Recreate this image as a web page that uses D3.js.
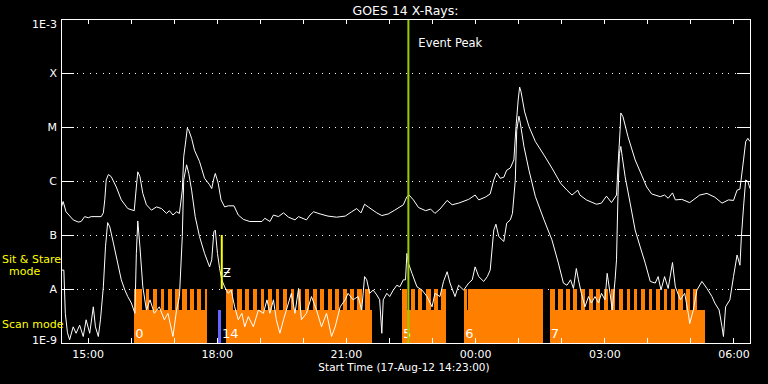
<!DOCTYPE html>
<html><head><meta charset="utf-8">
<script src="https://cdn.jsdelivr.net/npm/d3@7/dist/d3.min.js"></script>
<style>html,body{margin:0;padding:0;background:#000;}svg{display:block;}</style>
</head><body><svg id="chart" width="768" height="384"></svg>
<script>
// ---------------- DATA ----------------
const startTime = "2012-08-17T14:23:00Z";
const endTime   = "2012-08-18T06:23:00Z";
const titleText = "GOES 14 X-Rays:";
const xAxisTitle = "Start Time (17-Aug-12 14:23:00)";

// GOES long channel (1-8 A), log10 flux W/m^2
const longChannel = [
["14:23",-6.51],["14:26",-6.38],["14:30",-6.57],["14:40",-6.72],["14:47",-6.76],["14:51",-6.75],["14:56",-6.66],
["15:01",-6.68],["15:05",-6.66],["15:19",-6.66],["15:22",-6.59],["15:24",-6.35],["15:26",-5.98],["15:29",-5.88],
["15:33",-5.92],["15:40",-6.11],["15:47",-6.35],["15:56",-6.51],["16:05",-6.55],["16:08",-6.11],["16:10",-5.83],
["16:13",-5.92],["16:17",-6.23],["16:22",-6.44],["16:29",-6.54],["16:36",-6.48],["16:43",-6.51],["16:50",-6.60],
["16:54",-6.55],["16:59",-6.63],["17:04",-6.57],["17:08",-6.60],["17:12",-6.17],["17:14",-5.55],["17:17",-5.24],
["17:19",-5.02],["17:21",-5.06],["17:25",-5.21],["17:29",-5.43],["17:36",-5.64],["17:43",-5.95],["17:50",-6.07],
["17:53",-6.14],["17:56",-5.95],["17:58",-5.86],["18:02",-6.04],["18:06",-6.35],["18:11",-6.48],["18:16",-6.46],
["18:24",-6.46],["18:30",-6.63],["18:37",-6.71],["18:46",-6.75],["19:03",-6.75],["19:07",-6.69],["19:14",-6.75],
["19:19",-6.63],["19:26",-6.66],["19:33",-6.59],["19:40",-6.67],["19:49",-6.72],["19:54",-6.66],["20:05",-6.72],
["20:10",-6.63],["20:15",-6.57],["20:24",-6.61],["20:35",-6.65],["20:47",-6.67],["20:59",-6.65],["21:08",-6.57],
["21:15",-6.51],["21:21",-6.59],["21:26",-6.43],["21:31",-6.48],["21:43",-6.59],["21:50",-6.64],["21:59",-6.61],
["22:08",-6.54],["22:20",-6.44],["22:25",-6.29],["22:28",-6.26],["22:34",-6.35],["22:41",-6.49],["22:51",-6.55],
["22:58",-6.52],["23:04",-6.60],["23:11",-6.52],["23:21",-6.36],["23:28",-6.44],["23:37",-6.41],["23:51",-6.34],
["00:00",-6.26],["00:05",-6.35],["00:14",-6.30],["00:21",-6.24],["00:26",-5.98],["00:30",-5.85],["00:35",-5.95],
["00:40",-5.93],["00:44",-5.80],["00:49",-5.76],["00:54",-5.61],["00:57",-4.99],["01:00",-4.50],["01:02",-4.26],
["01:04",-4.35],["01:09",-4.72],["01:15",-4.99],["01:24",-5.27],["01:36",-5.52],["01:47",-5.76],["01:59",-6.04],
["02:08",-6.17],["02:15",-6.26],["02:23",-6.17],["02:26",-6.26],["02:35",-6.35],["02:49",-6.43],["02:56",-6.41],
["03:03",-6.28],["03:10",-6.40],["03:17",-6.26],["03:19",-5.74],["03:22",-5.06],["03:23",-4.74],["03:26",-4.81],
["03:33",-5.18],["03:43",-5.61],["03:52",-5.89],["03:59",-6.11],["04:06",-6.24],["04:18",-6.29],["04:24",-6.26],
["04:29",-6.32],["04:35",-6.22],["04:39",-6.35],["04:48",-6.34],["04:59",-6.40],["05:13",-6.26],["05:23",-6.23],
["05:34",-6.30],["05:44",-6.41],["05:53",-6.35],["06:00",-6.36],["06:05",-6.17],["06:09",-6.15],["06:14",-5.61],
["06:17",-5.27],["06:20",-5.21],["06:23",-5.27]
];

// GOES short channel (0.5-4 A), log10 flux W/m^2
const shortChannel = [
["14:23",-7.65],["14:24",-7.65],["14:27",-7.65],["14:29",-8.45],["14:32",-8.81],["14:35",-8.94],["14:40",-8.70],
["14:44",-8.82],["14:49",-8.67],["14:54",-8.88],["14:58",-8.57],["15:03",-8.82],["15:08",-8.33],["15:11",-8.70],
["15:15",-8.88],["15:18",-8.57],["15:22",-7.96],["15:25",-7.22],["15:28",-6.77],["15:31",-6.85],["15:36",-7.15],
["15:42",-7.52],["15:47",-7.83],["15:52",-8.02],["15:56",-8.14],["16:01",-8.26],["16:06",-8.45],["16:08",-7.34],
["16:10",-6.74],["16:13",-7.22],["16:17",-7.96],["16:22",-8.39],["16:27",-8.20],["16:33",-8.45],["16:40",-8.33],
["16:47",-8.57],["16:52",-8.45],["16:59",-8.88],["17:04",-8.39],["17:08",-8.14],["17:12",-7.03],["17:14",-5.98],
["17:18",-5.70],["17:21",-5.86],["17:25",-6.17],["17:30",-6.66],["17:36",-7.03],["17:43",-7.34],["17:50",-7.59],
["17:53",-7.46],["17:56",-6.94],["17:58",-6.91],["18:01",-7.34],["18:04",-7.62],["18:07",-7.83],["18:11",-7.96],
["18:16",-8.08],["18:20",-8.02],["18:25",-8.33],["18:30",-8.57],["18:35",-8.45],["18:39",-8.70],["18:44",-8.51],
["18:51",-8.70],["18:58",-8.39],["19:05",-8.45],["19:10",-8.20],["19:14",-8.45],["19:19",-8.20],["19:23",-8.57],
["19:28",-8.82],["19:33",-8.57],["19:37",-8.39],["19:44",-8.08],["19:49",-8.45],["19:54",-7.99],["19:58",-8.57],
["20:05",-8.45],["20:12",-8.14],["20:19",-8.39],["20:26",-8.70],["20:33",-8.45],["20:40",-8.88],["20:45",-8.70],
["20:52",-8.33],["20:59",-8.20],["21:03",-8.08],["21:10",-8.20],["21:17",-8.14],["21:22",-8.39],["21:26",-7.77],
["21:29",-7.83],["21:33",-8.08],["21:38",-8.02],["21:43",-8.11],["21:47",-8.20],["21:50",-8.82],["21:52",-8.20],
["21:57",-8.08],["22:01",-8.14],["22:06",-8.02],["22:11",-7.93],["22:15",-7.96],["22:20",-7.83],["22:23",-7.83],
["22:25",-7.34],["22:27",-7.52],["22:32",-7.71],["22:39",-7.96],["22:46",-8.02],["22:53",-8.14],["23:00",-8.33],
["23:04",-8.08],["23:11",-8.14],["23:16",-7.86],["23:21",-7.68],["23:25",-7.89],["23:32",-8.14],["23:37",-7.93],
["23:44",-8.02],["23:51",-7.89],["23:56",-7.83],["00:00",-7.59],["00:05",-7.77],["00:12",-7.86],["00:17",-7.77],
["00:21",-7.65],["00:26",-6.91],["00:29",-6.80],["00:33",-7.03],["00:40",-7.12],["00:44",-6.78],["00:49",-6.72],
["00:52",-6.60],["00:56",-5.98],["00:58",-5.06],["01:01",-4.80],["01:03",-4.93],["01:08",-5.36],["01:15",-5.80],
["01:24",-6.29],["01:36",-6.72],["01:47",-7.09],["01:56",-7.52],["02:03",-7.89],["02:08",-7.93],["02:13",-7.83],
["02:17",-7.99],["02:21",-7.62],["02:24",-7.83],["02:28",-8.08],["02:33",-8.33],["02:38",-8.14],["02:42",-8.26],
["02:47",-8.14],["02:52",-8.26],["02:56",-8.08],["03:01",-8.20],["03:04",-7.71],["03:08",-8.08],["03:11",-8.39],
["03:15",-7.83],["03:17",-7.46],["03:19",-6.29],["03:21",-5.49],["03:23",-5.36],["03:25",-5.55],["03:29",-5.92],
["03:36",-6.41],["03:43",-6.91],["03:50",-7.22],["03:57",-7.52],["04:04",-7.86],["04:11",-7.89],["04:15",-7.77],
["04:19",-8.02],["04:24",-7.77],["04:29",-7.99],["04:35",-7.51],["04:39",-7.96],["04:46",-8.20],["04:52",-8.08],
["04:57",-8.45],["04:59",-8.64],["05:04",-8.39],["05:09",-8.02],["05:16",-7.86],["05:23",-7.99],["05:30",-8.14],
["05:34",-8.26],["05:40",-8.39],["05:44",-8.70],["05:46",-8.88],["05:49",-8.33],["05:55",-8.20],["06:00",-7.77],
["06:05",-7.37],["06:09",-7.56],["06:11",-7.03],["06:14",-6.48],["06:17",-5.98],["06:20",-6.01],["06:23",-6.14]
];

// Observation blocks (scan mode) [start, end]
const scanBlocks = [["16:05","17:47"],["18:13","21:36"],["22:18","23:19"],["23:45","01:35"],["01:44","05:20"]];
// Gaps between sit & stare segments [start, end]
const stareGaps = [
["16:16","16:21"],["16:26","16:31"],["16:37","16:42"],["16:47","16:52"],["16:57","17:02"],["17:07","17:12"],
["17:18","17:23"],["17:28","17:33"],["17:38","17:43"],
["18:23","18:28"],["18:35","18:40"],["18:45","18:50"],["18:56","19:01"],["19:06","19:11"],["19:17","19:22"],
["19:27","19:32"],["19:38","19:43"],["19:48","19:53"],["19:58","20:03"],["20:09","20:14"],["20:19","20:24"],
["20:30","20:35"],["20:40","20:45"],["20:51","20:56"],["21:01","21:06"],["21:11","21:16"],["21:22","21:27"],
["21:33","21:36"],
["22:25","22:30"],["22:36","22:41"],["22:46","22:51"],["22:58","23:03"],["23:08","23:13"],
["23:48","23:49"],
["01:51","01:56"],["02:02","02:07"],["02:12","02:17"],["02:22","02:27"],["02:33","02:38"],["02:44","02:49"],
["02:54","02:59"],["03:05","03:10"],["03:15","03:20"],["03:26","03:31"],["03:36","03:41"],["03:46","03:51"],
["03:57","04:02"],["04:07","04:12"],["04:18","04:23"],["04:28","04:33"],["04:38","04:43"],["04:49","04:54"],
["04:59","05:04"],["05:09","05:13"],["05:14","05:20"]
];
const calibrationBars = [["18:02","18:06"]];
const blockLabels = [["0","16:05"],["14","18:06"],["5","22:18"],["6","23:45"],["7","01:44"]];
const eventPeakTime = "22:27";
const eventPeakLabel = "Event Peak";
const flareMarker = [["18:07", 1e-7, 1e-8, "Ƶ"]];
const yTickValues = [1e-9,1e-8,1e-7,1e-6,1e-5,1e-4,1e-3];
const yTickLabels = ["1E-9","A","B","C","M","X","1E-3"];
const modeLabels = [["Sit & Stare", "  mode"], ["Scan mode"]];

// ---------------- DRAWING ----------------
const W = 768, H = 384;
const m = {left:61, right:18, top:19, bottom:41};
const svg = d3.select("#chart");
svg.append("rect").attr("width",W).attr("height",H).attr("fill","#000");

const t0 = new Date(startTime), t1 = new Date(endTime);
function tp(s){const [h,mi]=s.split(":").map(Number);const day=h<14?18:17;return new Date(Date.UTC(2012,7,day,h,mi));}
const x = d3.scaleUtc().domain([t0,t1]).range([m.left, W-m.right]);
const y = d3.scaleLog().domain([1e-9,1e-3]).range([H-m.bottom, m.top]);
const FONT = "DejaVu Sans, sans-serif";

const defs = svg.append("defs");
defs.append("clipPath").attr("id","plot").append("rect")
  .attr("x",m.left).attr("y",m.top).attr("width",W-m.left-m.right).attr("height",H-m.top-m.bottom);

// grid dotted lines
const grid = svg.append("g").attr("shape-rendering","crispEdges");
grid.selectAll("line").data(yTickValues.slice(1,-1)).join("line")
  .attr("x1",m.left+16).attr("x2",W-m.right-14)
  .attr("y1",d=>Math.round(y(d))+0.5).attr("y2",d=>Math.round(y(d))+0.5)
  .attr("stroke","#fff").attr("stroke-dasharray","1,5.45");

// bars
const bandTop = y(1e-8), bandBot = y(1e-9);
const notchBot = bandTop + 0.39*(bandBot-bandTop);
const bars = svg.append("g").attr("shape-rendering","crispEdges").attr("clip-path","url(#plot)");
bars.selectAll("rect.blk").data(scanBlocks).join("rect").attr("class","blk")
  .attr("x",d=>x(tp(d[0]))).attr("width",d=>x(tp(d[1]))-x(tp(d[0])))
  .attr("y",bandTop).attr("height",bandBot-bandTop).attr("fill","#ff8000");
bars.selectAll("rect.gap").data(stareGaps).join("rect").attr("class","gap")
  .attr("x",d=>x(tp(d[0]))).attr("width",d=>Math.max(1,x(tp(d[1]))-x(tp(d[0]))))
  .attr("y",bandTop).attr("height",notchBot-bandTop).attr("fill","#000");
bars.selectAll("rect.cal").data(calibrationBars).join("rect").attr("class","cal")
  .attr("x",d=>x(tp(d[0]))).attr("width",d=>x(tp(d[1]))-x(tp(d[0])))
  .attr("y",notchBot).attr("height",bandBot-notchBot).attr("fill","#6464ff");

// curves
const line = d3.line().x(d=>x(tp(d[0]))).y(d=>y(Math.max(Math.pow(10,d[1]),1e-9)));
const curves = svg.append("g").attr("clip-path","url(#plot)");
[longChannel, shortChannel].forEach(s=>{
  curves.append("path").datum(s).attr("d",line).attr("fill","none").attr("stroke","#fff").attr("stroke-width",1);
});

// block labels
svg.append("g").selectAll("text").data(blockLabels).join("text")
  .attr("x",d=>x(tp(d[1]))+1).attr("y",bandBot-5)
  .attr("fill","#fff").attr("font-family",FONT).attr("font-size",13).text(d=>d[0]);

// flare marker
const fm = svg.append("g");
fm.selectAll("rect").data(flareMarker).join("rect")
  .attr("x",d=>x(tp(d[0]))-1).attr("width",2).attr("y",d=>y(d[1])).attr("height",d=>y(d[2])-y(d[1]))
  .attr("fill","#ffff00");
fm.selectAll("text").data(flareMarker).join("text")
  .attr("x",d=>x(tp(d[0]))+1).attr("y",d=>y(d[2])-12)
  .attr("fill","#fff").attr("font-family",FONT).attr("font-size",12).text(d=>d[3]);

// event peak
const ex = x(tp(eventPeakTime));
svg.append("rect").attr("x",ex-1).attr("y",m.top).attr("width",2).attr("height",H-m.top-m.bottom).attr("fill","#99cc00");
svg.append("text").attr("x",ex+10).attr("y",47).attr("fill","#fff").attr("font-family",FONT).attr("font-size",11.5).text(eventPeakLabel);

// axes
function styleAxis(g){g.select(".domain").remove();g.selectAll("line").attr("stroke","#fff");
  g.selectAll("text").attr("fill","#fff").attr("font-family",FONT);g.attr("shape-rendering","crispEdges");}
const hourTicks = x.ticks(d3.utcHour.every(1));
const fmt = d3.utcFormat("%H:%M");
svg.append("g").attr("transform",`translate(0,${H-m.bottom})`)
  .call(d3.axisBottom(x).tickValues(hourTicks).tickSize(-5).tickPadding(7)
    .tickFormat(d=>d.getUTCHours()%3===0?fmt(d):""))
  .call(styleAxis).call(g=>g.selectAll("text").attr("font-size",11));
svg.append("g").attr("transform",`translate(0,${m.top})`)
  .call(d3.axisTop(x).tickValues(hourTicks).tickSize(-5).tickFormat(""))
  .call(styleAxis);
const yl = svg.append("g").attr("transform",`translate(${m.left},0)`)
  .call(d3.axisLeft(y).tickValues(yTickValues).tickSize(-13).tickPadding(4)
    .tickFormat((d,i)=>yTickLabels[i]))
  .call(styleAxis).call(g=>g.selectAll("text").attr("font-size",11));
yl.selectAll("text").filter(d=>d===1e-3).attr("dy","0.75em");
yl.selectAll("text").filter(d=>d===1e-9).attr("dy","0em");
svg.append("g").attr("transform",`translate(${W-m.right},0)`)
  .call(d3.axisRight(y).tickValues(yTickValues).tickSize(-13).tickFormat(""))
  .call(styleAxis);

// frame
svg.append("rect").attr("x",m.left+0.5).attr("y",m.top+0.5).attr("width",W-m.left-m.right).attr("height",H-m.top-m.bottom)
  .attr("fill","none").attr("stroke","#fff").attr("shape-rendering","crispEdges");

// titles
svg.append("text").attr("x",(m.left+W-m.right)/2).attr("y",15).attr("text-anchor","middle")
  .attr("fill","#fff").attr("font-family",FONT).attr("font-size",12.5).text(titleText);
svg.append("text").attr("x",404).attr("y",371).attr("text-anchor","middle")
  .attr("fill","#fff").attr("font-family",FONT).attr("font-size",10.5).text(xAxisTitle);

// mode labels
const ml = svg.append("g").attr("fill","#ffff00").attr("font-family",FONT).attr("font-size",11);
ml.append("text").attr("x",2).attr("y",263).text(modeLabels[0][0]);
ml.append("text").attr("x",2).attr("y",275).style("white-space","pre").text(modeLabels[0][1]);
ml.append("text").attr("x",2).attr("y",328).text(modeLabels[1][0]);
</script></body></html>
